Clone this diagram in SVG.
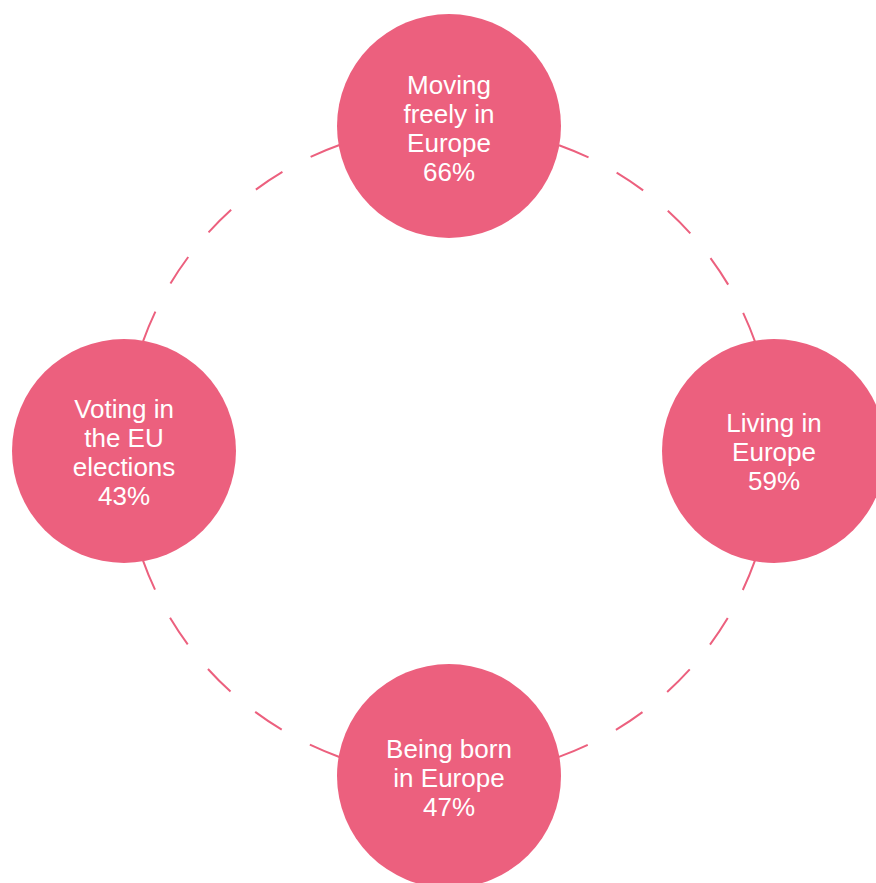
<svg xmlns="http://www.w3.org/2000/svg" width="876" height="883" viewBox="0 0 876 883">
<style>
.ring{fill:none;stroke:#EC607E;stroke-width:2;stroke-dasharray:31.907 31.907;stroke-dashoffset:15.95}
.node{fill:#EC607E}
.lbl{fill:#ffffff;font-family:"Liberation Sans",Arial,sans-serif;font-size:26px;text-anchor:middle}
</style>
<rect width="876" height="883" fill="#ffffff"/>
<g id="connectors">
<circle class="ring" cx="449" cy="451" r="325"/>
</g>
<g id="node-moving">
<circle class="node" cx="449" cy="126" r="112"/>
<text class="lbl" x="449"><tspan x="449" y="94">Moving</tspan><tspan x="449" y="123">freely in</tspan><tspan x="449" y="152">Europe</tspan><tspan x="449" y="181">66%</tspan></text>
</g>
<g id="node-living">
<circle class="node" cx="774" cy="451" r="112"/>
<text class="lbl"><tspan x="774" y="432">Living in</tspan><tspan x="774" y="461">Europe</tspan><tspan x="774" y="490">59%</tspan></text>
</g>
<g id="node-born">
<circle class="node" cx="449" cy="776" r="112"/>
<text class="lbl"><tspan x="449" y="758">Being born</tspan><tspan x="449" y="787">in Europe</tspan><tspan x="449" y="816">47%</tspan></text>
</g>
<g id="node-voting">
<circle class="node" cx="124" cy="451" r="112"/>
<text class="lbl"><tspan x="124" y="418">Voting in</tspan><tspan x="124" y="447">the EU</tspan><tspan x="124" y="476">elections</tspan><tspan x="124" y="505">43%</tspan></text>
</g>
</svg>
